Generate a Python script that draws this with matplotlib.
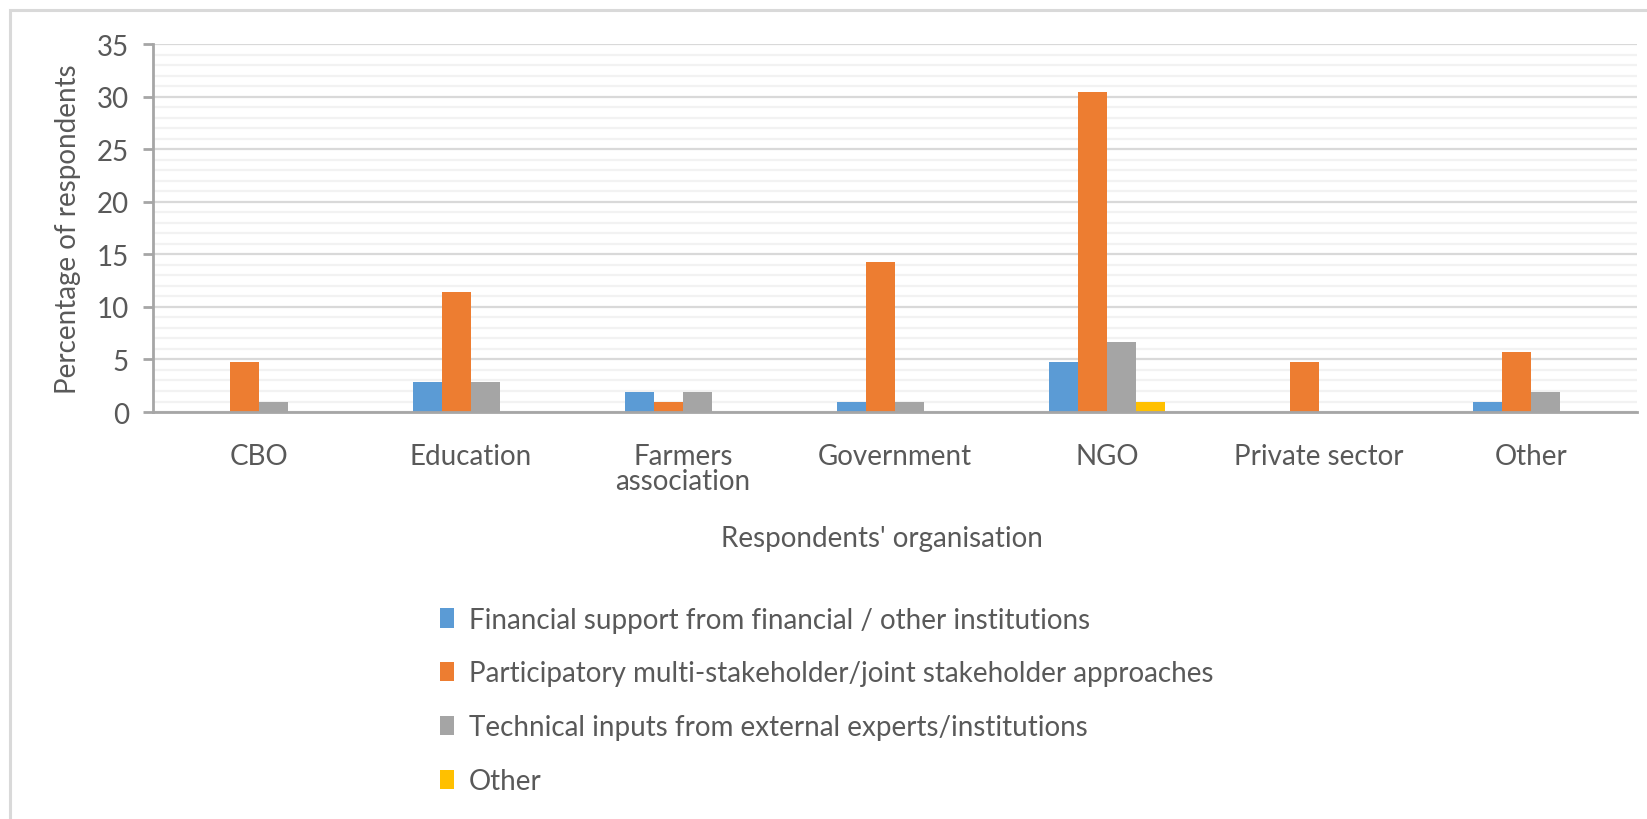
import matplotlib.pyplot as plt
import numpy as np
from matplotlib.patches import Rectangle
from matplotlib.ticker import MultipleLocator

organisations = ['CBO', 'Education', 'Farmers\nassociation', 'Government', 'NGO', 'Private sector', 'Other']
series_names = [
    'Financial support from financial / other institutions',
    'Participatory multi-stakeholder/joint stakeholder approaches',
    'Technical inputs from external experts/institutions',
    'Other',
]
financial = [0, 2.86, 1.90, 0.95, 4.76, 0, 0.95]
participatory = [4.76, 11.43, 0.95, 14.29, 30.48, 4.76, 5.71]
technical = [0.95, 2.86, 1.90, 0.95, 6.67, 0, 1.90]
other = [0, 0, 0, 0, 0.95, 0, 0]
colors = ['#5B9BD5', '#ED7D31', '#A5A5A5', '#FFC000']

text_col = '#595959'
plt.rcParams['font.family'] = ['Lato', 'DejaVu Sans']
fs = 20

fig = plt.figure(figsize=(16.47, 8.2), dpi=100)
ax = fig.add_axes([0.0927, 0.4963, 0.9012, 0.4488])

# outer chart frame (cut off at right and bottom like the reference)
fig.patches.append(Rectangle((10 / 1647, -0.1), 1.2, 1.1 - 11 / 820,
                             transform=fig.transFigure, fill=False,
                             edgecolor='#D9D9D9', linewidth=2.2))

x = np.arange(len(organisations))
w = 0.137
for i, (vals, name) in enumerate(zip([financial, participatory, technical, other], series_names)):
    ax.bar(x + (i - 1.5) * w, vals, width=w, color=colors[i], label=name, zorder=3)

ax.set_xlim(-0.5, len(organisations) - 0.5)
ax.set_ylim(0, 35)
ax.yaxis.set_major_locator(MultipleLocator(5))
ax.yaxis.set_minor_locator(MultipleLocator(1))
ax.grid(axis='y', which='major', color='#D9D9D9', linewidth=1.6, zorder=1)
ax.grid(axis='y', which='minor', color='#F2F2F2', linewidth=1.6, zorder=0)

for s in ['top', 'right']:
    ax.spines[s].set_visible(False)
for s in ['left', 'bottom']:
    ax.spines[s].set_color('#A6A6A6')
    ax.spines[s].set_linewidth(2)
    ax.spines[s].set_zorder(4)

ax.set_xticks(x)
ax.set_xticklabels(organisations, fontsize=fs, color=text_col, va='top', linespacing=0.95)
ax.tick_params(axis='x', length=0, pad=22)
ax.tick_params(axis='y', which='major', length=7, width=2, color='#A6A6A6',
               labelsize=fs, labelcolor=text_col, pad=10)
ax.tick_params(axis='y', which='minor', length=0)

ax.set_ylabel('Percentage of respondents', fontsize=fs, color=text_col, va='center')
ax.yaxis.set_label_coords(-0.057, 0.5)
ax.set_xlabel("Respondents' organisation", fontsize=fs, color=text_col, va='center')
ax.xaxis.set_label_coords(0.491, -0.342)

fig.legend(loc='upper left', bbox_to_anchor=(0.267, 0.259), frameon=False,
           fontsize=fs, labelcolor=text_col, handlelength=0.5, handleheight=0.7,
           handletextpad=0.55, labelspacing=1.0, borderpad=0, borderaxespad=0)

fig.savefig('out.png', dpi=100)
